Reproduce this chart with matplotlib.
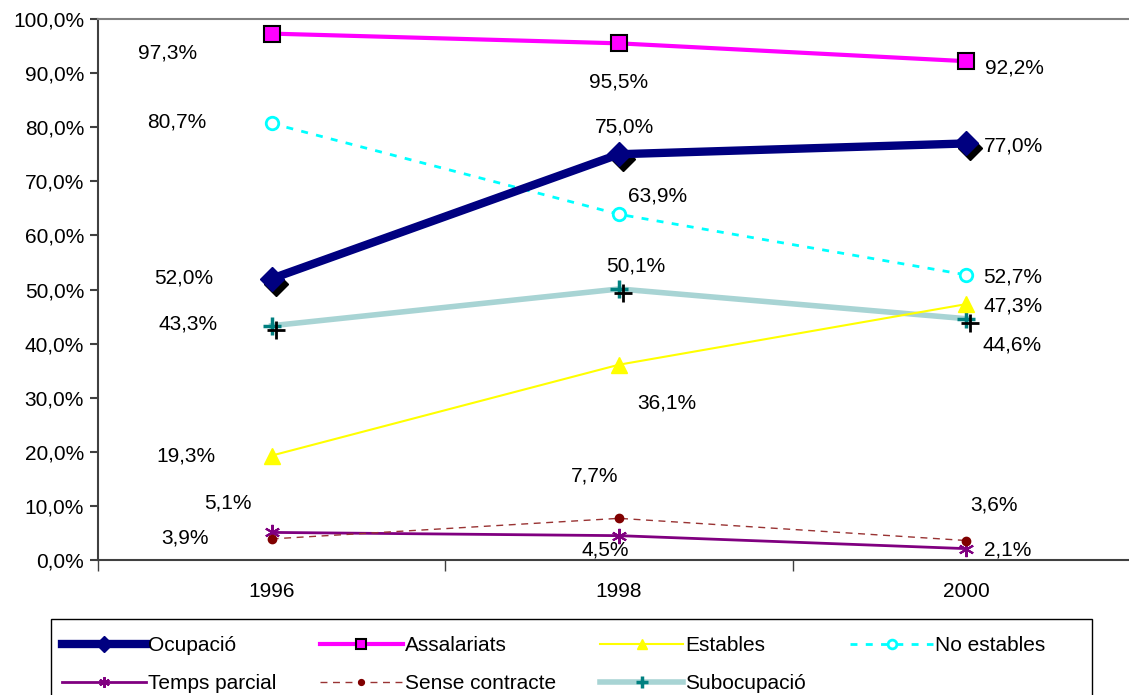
import numpy as np
import matplotlib
matplotlib.use('Agg')
import matplotlib.pyplot as plt
from matplotlib.transforms import offset_copy
from matplotlib.patches import Rectangle

plt.rcParams['font.family'] = ['Liberation Sans', 'DejaVu Sans']

years = ['1996', '1998', '2000']
ocupacio = [52.0, 75.0, 77.0]
assalariats = [97.3, 95.5, 92.2]
estables = [19.3, 36.1, 47.3]
no_estables = [80.7, 63.9, 52.7]
temps_parcial = [5.1, 4.5, 2.1]
sense_contracte = [3.9, 7.7, 3.6]
subocupacio = [43.3, 50.1, 44.6]

# label offsets in pixels (dx, dy) per point
off_ocu = [(-88, 1), (5, 27), (47, -3)]
off_ass = [(-104, -19), (0, -39), (48, -7)]
off_est = [(-86, 0), (48, -38), (47, -2)]
off_noe = [(-95, 1), (39, 18), (46, -2)]
off_tem = [(-44, 29), (-14, -14), (41, -1)]
off_sen = [(-87, 1), (-24, 42), (28, 36)]
off_sub = [(-84, 2), (17, 23), (46, -26)]

fig = plt.figure(figsize=(11.29, 6.95), dpi=100)
ax = fig.add_axes([98/1129, 135/695, (1140-98)/1129, (560-19)/695])
x = np.arange(len(years))

def lab(vals, offs):
    for xi, v, (dx, dy) in zip(x, vals, offs):
        ax.annotate(('%.1f%%' % v).replace('.', ','), (xi, v), xytext=(dx, dy),
                    textcoords='offset pixels', ha='center', va='center',
                    fontsize=15, color='black', zorder=10)

# shadows
sh = offset_copy(ax.transData, fig=fig, x=4, y=-5, units='dots')
ax.plot(x, ocupacio, 'D', color='black', ms=12, transform=sh, zorder=4)
sh2 = offset_copy(ax.transData, fig=fig, x=4, y=-4, units='dots')

l_ocu, = ax.plot(x, ocupacio, color='#000080', lw=6, marker='D', ms=12,
                 mfc='#000080', mec='#000080', label='Ocupació', zorder=5)
l_ass, = ax.plot(x, assalariats, color='#FF00FF', lw=3, marker='s', ms=11,
                 mfc='#FF00FF', mec='black', mew=1.5, label='Assalariats', zorder=5)
l_est, = ax.plot(x, estables, color='#FFFF00', lw=1.5, marker='^', ms=11,
                 mfc='#FFFF00', mec='#FFFF00', label='Estables', zorder=4)
l_noe, = ax.plot(x, no_estables, color='#00FFFF', lw=2, ls=(0, (2.5, 3)), marker='o', ms=9,
                 mfc='white', mec='#00FFFF', mew=2, label='No estables', zorder=4)
l_tem, = ax.plot(x, temps_parcial, color='#800080', lw=2, marker=(6, 2, 0), ms=11,
                 mec='#800080', mew=1.5, label='Temps parcial', zorder=4)
l_sen, = ax.plot(x, sense_contracte, color='#993333', lw=1, ls=(0, (5, 4)), marker='o', ms=6,
                 mfc='#800000', mec='#800000', label='Sense contracte', zorder=4)
l_sub, = ax.plot(x, subocupacio, color='#A8D4D4', lw=4, marker='+', ms=13,
                 mec='#008080', mew=2.5, label='Subocupació', zorder=3)
ax.plot(x, subocupacio, '+', color='black', ms=13, mew=2, transform=sh2, zorder=3)

lab(ocupacio, off_ocu)
lab(assalariats, off_ass)
lab(estables, off_est)
lab(no_estables, off_noe)
lab(temps_parcial, off_tem)
lab(sense_contracte, off_sen)
lab(subocupacio, off_sub)

ax.set_xlim(-0.5, 2.5)
ax.set_ylim(0, 100)
ax.set_yticks(np.arange(0, 101, 10))
ax.set_yticklabels([('%.1f%%' % v).replace('.', ',') for v in np.arange(0, 101, 10)], fontsize=15)
ax.set_xticks(x)
ax.set_xticklabels(years, fontsize=15)
ax.set_xticks([-0.5, 0.5, 1.5, 2.5], minor=True)
ax.tick_params(axis='x', which='major', length=0, pad=16)
ax.tick_params(axis='x', which='minor', length=8, width=1, color='#404040', direction='out')
ax.tick_params(axis='y', length=6, width=1.5, color='#404040', pad=4)

ax.spines['right'].set_visible(False)
ax.spines['top'].set_color('#808080')
ax.spines['top'].set_linewidth(1.5)
for s in ['left', 'bottom']:
    ax.spines[s].set_color('#404040')
    ax.spines[s].set_linewidth(1.5)

# legend frame drawn separately, runs past the bottom edge
fig.add_artist(Rectangle((51/1129, -0.05), (1092-51)/1129, (695-619)/695 + 0.05,
                         transform=fig.transFigure, fill=False, edgecolor='black', lw=1))

handles = [l_ocu, l_tem, l_ass, l_sen, l_est, l_sub, l_noe]
leg = fig.legend(handles=handles, labels=[h.get_label() for h in handles],
                 loc='upper left', bbox_to_anchor=(56/1129, (695-630)/695),
                 ncol=4, fontsize=15, frameon=False,
                 handlelength=4.0, handletextpad=0.1, columnspacing=2.1,
                 borderpad=0.3, labelspacing=0.9, borderaxespad=0, markerscale=0.7)

fig.savefig('out.png', dpi=100)
